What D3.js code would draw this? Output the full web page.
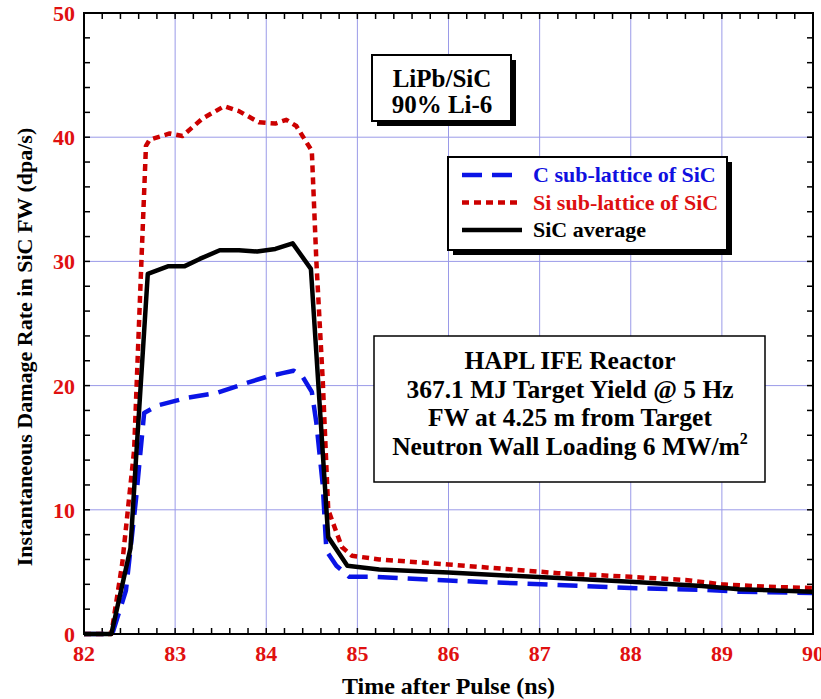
<!DOCTYPE html>
<html>
<head>
<meta charset="utf-8">
<script src="https://cdn.jsdelivr.net/npm/d3@7"></script>
<style>
    body { margin: 0; background: #fff; }
    text { font-family: "Liberation Serif", "Times New Roman", serif; font-weight: bold; }
</style>
</head>
<body>
<div id="plot"></div>
<script>

// C sub-lattice of SiC (blue dashed)
var cTime = [82, 82.31, 82.46, 82.57, 82.66, 82.81, 83.12, 83.45, 83.78, 84.0, 84.18, 84.3, 84.4, 84.5, 84.55, 84.62, 84.66, 84.77, 84.91, 85.2, 86, 87.2, 88, 88.8, 89.2, 90];
var cRate = [0, 0, 3.5, 10.8, 17.8, 18.4, 19, 19.4, 20.2, 20.7, 21, 21.2, 20.7, 19.5, 17, 12, 6.7, 5.5, 4.6, 4.6, 4.3, 3.95, 3.7, 3.55, 3.4, 3.3];

// Si sub-lattice of SiC (red dotted)
var siTime = [82, 82.3, 82.42, 82.55, 82.63, 82.68, 82.72, 82.94, 83.08, 83.3, 83.54, 83.7, 83.92, 84.1, 84.22, 84.33, 84.5, 84.55, 84.62, 84.68, 84.83, 84.94, 85.24, 86, 87.2, 88, 88.6, 89, 89.5, 90];
var siRate = [0, 0, 5.7, 14.8, 30, 39.3, 39.8, 40.3, 40.1, 41.5, 42.5, 42.1, 41.2, 41.1, 41.4, 40.9, 38.9, 30, 20.4, 10, 7, 6.3, 6.0, 5.6, 4.9, 4.6, 4.35, 4.0, 3.8, 3.7];

// SiC average (black solid)
var avgTime = [82, 82.3, 82.51, 82.57, 82.7, 82.92, 83.1, 83.27, 83.49, 83.7, 83.9, 84.1, 84.29, 84.49, 84.68, 84.89, 85.24, 86, 87.21, 88, 88.78, 89.19, 90];
var avgRate = [0, 0, 6.9, 14, 29, 29.6, 29.6, 30.2, 30.9, 30.9, 30.8, 31.0, 31.45, 29.4, 7.8, 5.5, 5.2, 4.95, 4.5, 4.2, 3.86, 3.6, 3.4];

var xTicks = [82, 83, 84, 85, 86, 87, 88, 89, 90];
var yTicks = [0, 10, 20, 30, 40, 50];

var seriesNames = ["C sub-lattice of SiC", "Si sub-lattice of SiC", "SiC average"];
var boxLines = ["LiPb/SiC", "90% Li-6"];
var infoLines = ["HAPL IFE Reactor", "367.1 MJ Target Yield @ 5 Hz", "FW at 4.25 m from Target", "Neutron Wall Loading 6 MW/m"];

window.onload = function(){

    var series = [
        { name: seriesNames[0], pts: d3.zip(cTime, cRate), color: "#0a14e6", dash: "20,10", textColor: "#1010e0" },
        { name: seriesNames[1], pts: d3.zip(siTime, siRate), color: "#cc0000", dash: "7,5", textColor: "#dd1010" },
        { name: seriesNames[2], pts: d3.zip(avgTime, avgRate), color: "#000000", dash: null, textColor: "#000" }
    ];

    buildChart(series);

};

function buildChart(series){

    var margin = { left: 84, top: 13, right: 8, bottom: 65 };

    var width = 821 - margin.left - margin.right;
    var height = 699 - margin.top - margin.bottom;

    var xScale = d3.scaleLinear().domain([82, 90]).range([0, width]);
    var yScale = d3.scaleLinear().domain([0, 50]).range([height, 0]);

    var svg = d3.select("#plot")
                .append("svg")
                .attr("width", 821)
                .attr("height", 699)
                .append("g")
                .attr("transform", "translate(" + margin.left + "," + margin.top + ")");

    // grid
    var grid = svg.append("g").attr("stroke", "#9a9ae8").attr("stroke-width", 1);

    grid.selectAll("line.gx")
        .data(xTicks.slice(1, -1))
        .enter()
        .append("line")
        .attr("x1", d => xScale(d)).attr("x2", d => xScale(d))
        .attr("y1", 0).attr("y2", height);

    grid.selectAll("line.gy")
        .data(yTicks.slice(1, -1))
        .enter()
        .append("line")
        .attr("y1", d => yScale(d)).attr("y2", d => yScale(d))
        .attr("x1", 0).attr("x2", width);

    // inward ticks on all four sides
    var tickLen = 6;
    var xMinor = d3.range(82, 90.001, 0.2);
    var yMinor = d3.range(0, 50.001, 2);

    var ticks = svg.append("g").attr("stroke", "#000").attr("stroke-width", 1.5);

    xMinor.forEach(t => {
        ticks.append("line").attr("x1", xScale(t)).attr("x2", xScale(t)).attr("y1", height).attr("y2", height - tickLen);
        ticks.append("line").attr("x1", xScale(t)).attr("x2", xScale(t)).attr("y1", 0).attr("y2", tickLen);
    });

    yMinor.forEach(v => {
        ticks.append("line").attr("y1", yScale(v)).attr("y2", yScale(v)).attr("x1", 0).attr("x2", tickLen);
        ticks.append("line").attr("y1", yScale(v)).attr("y2", yScale(v)).attr("x1", width).attr("x2", width - tickLen);
    });

    // tick labels
    svg.append("g")
        .selectAll("text")
        .data(xTicks)
        .enter()
        .append("text")
        .attr("x", d => xScale(d))
        .attr("y", height + 27)
        .attr("text-anchor", "middle")
        .attr("fill", "#e01010")
        .style("font-size", "22px")
        .text(d => d);

    svg.append("g")
        .selectAll("text")
        .data(yTicks)
        .enter()
        .append("text")
        .attr("x", -9)
        .attr("y", d => yScale(d) + 8)
        .attr("text-anchor", "end")
        .attr("fill", "#e01010")
        .style("font-size", "22px")
        .text(d => d);

    // axis titles
    svg.append("text")
        .attr("x", width / 2)
        .attr("y", height + 60)
        .attr("text-anchor", "middle")
        .style("font-size", "24px")
        .text("Time after Pulse (ns)");

    svg.append("text")
        .attr("transform", "translate(" + (-52) + "," + (347 - margin.top) + ") rotate(-90)")
        .attr("text-anchor", "middle")
        .style("font-size", "22px")
        .text("Instantaneous Damage Rate in SiC FW (dpa/s)");

    // lines
    var line = d3.line()
        .x(d => xScale(d[0]))
        .y(d => yScale(d[1]));

    svg.append("g")
        .selectAll("path")
        .data(series)
        .enter()
        .append("path")
        .attr("d", d => line(d.pts))
        .attr("fill", "none")
        .attr("stroke", d => d.color)
        .attr("stroke-width", 4.5)
        .attr("stroke-linejoin", "round")
        .attr("stroke-dasharray", d => d.dash);

    // frame
    svg.append("rect")
        .attr("width", width)
        .attr("height", height)
        .attr("fill", "none")
        .attr("stroke", "#000")
        .attr("stroke-width", 2);

    // LiPb/SiC box
    var b1 = svg.append("g").attr("transform", "translate(" + (372 - margin.left) + "," + (55 - margin.top) + ")");
    b1.append("rect").attr("x", 5).attr("y", 5).attr("width", 139).attr("height", 66).attr("fill", "#000");
    b1.append("rect").attr("width", 139).attr("height", 66).attr("fill", "#fff").attr("stroke", "#000").attr("stroke-width", 2);
    b1.selectAll("text")
        .data(boxLines)
        .enter()
        .append("text")
        .attr("x", 70)
        .attr("y", (d, i) => 32 + i * 26)
        .attr("text-anchor", "middle")
        .style("font-size", "25px")
        .text(d => d);

    // legend
    var lg = svg.append("g").attr("transform", "translate(" + (448 - margin.left) + "," + (157 - margin.top) + ")");
    lg.append("rect").attr("x", 5).attr("y", 5).attr("width", 279).attr("height", 93).attr("fill", "#000");
    lg.append("rect").attr("width", 279).attr("height", 93).attr("fill", "#fff").attr("stroke", "#000").attr("stroke-width", 2);

    var rows = lg.selectAll("g.row")
        .data(series)
        .enter()
        .append("g")
        .attr("transform", (d, i) => "translate(0," + (18 + i * 27.5) + ")");

    rows.append("line")
        .attr("x1", 14).attr("x2", 74)
        .attr("stroke", d => d.color)
        .attr("stroke-width", 4.5)
        .attr("stroke-dasharray", d => d.dash);

    rows.append("text")
        .attr("x", 85)
        .attr("y", 7)
        .attr("fill", d => d.textColor)
        .style("font-size", "22px")
        .text(d => d.name);

    // reactor info box
    var b2 = svg.append("g").attr("transform", "translate(" + (374 - margin.left) + "," + (336 - margin.top) + ")");
    b2.append("rect").attr("width", 391).attr("height", 146).attr("fill", "#fff").attr("stroke", "#000").attr("stroke-width", 1.5);
    var info = b2.selectAll("text")
        .data(infoLines)
        .enter()
        .append("text")
        .attr("x", 196)
        .attr("y", (d, i) => 33 + i * 28.5)
        .attr("text-anchor", "middle")
        .style("font-size", "25.5px")
        .text(d => d);

    info.filter((d, i) => i == 3)
        .append("tspan")
        .attr("dy", -11)
        .style("font-size", "16px")
        .text("2");

}

</script>
</body>
</html>
